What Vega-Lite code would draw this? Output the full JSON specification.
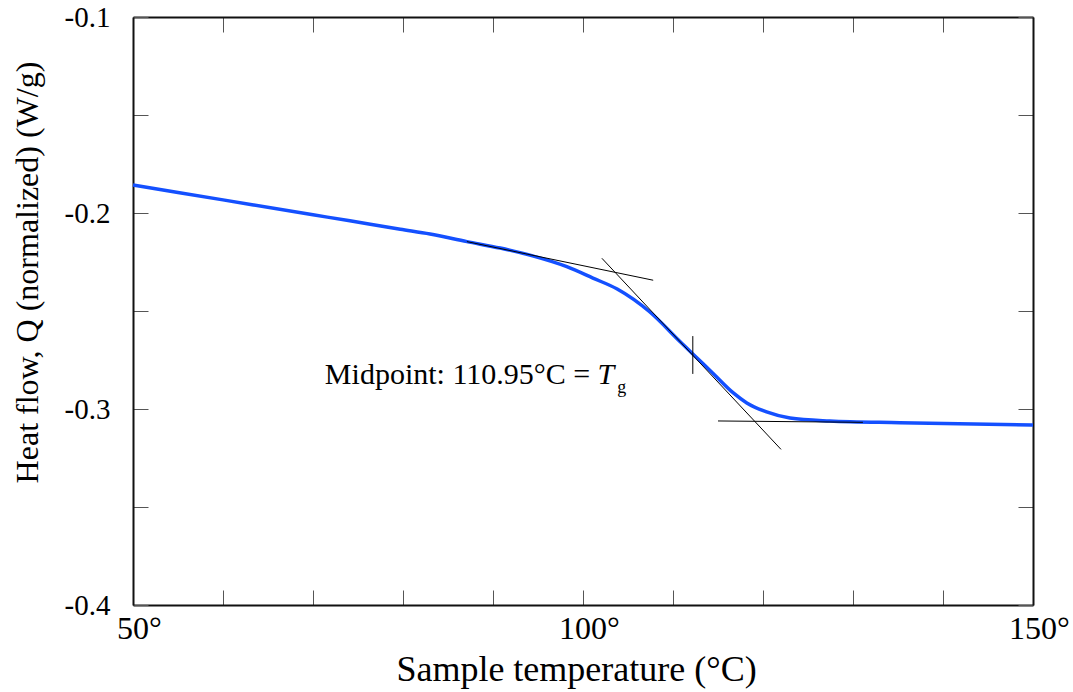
{
  "$schema": "https://vega.github.io/schema/vega-lite/v6.json",
  "width": 900,
  "height": 588,
  "autosize": {"type": "none"},
  "padding": {"left": 133, "top": 17, "right": 40, "bottom": 87},
  "background": "white",
  "config": {
    "font": "Liberation Serif",
    "view": {"stroke": null},
    "axis": {"grid": false, "labelColor": "black", "titleColor": "black", "titleFontWeight": "normal", "labelFlush": false, "labelOverlap": false, "domainColor": "#111", "domainWidth": 2, "tickColor": "#555", "tickWidth": 1}
  },
  "datasets": {
    "curve": [
      {"T": 50, "Q": -0.1857},
      {"T": 60, "Q": -0.1933},
      {"T": 70, "Q": -0.2009},
      {"T": 74.1, "Q": -0.2040},
      {"T": 79.7, "Q": -0.2083},
      {"T": 83.0, "Q": -0.2107},
      {"T": 87.1, "Q": -0.2146},
      {"T": 90.8, "Q": -0.2179},
      {"T": 94.4, "Q": -0.2219},
      {"T": 98.2, "Q": -0.2274},
      {"T": 101.1, "Q": -0.2332},
      {"T": 103.8, "Q": -0.2388},
      {"T": 107.4, "Q": -0.2504},
      {"T": 110.8, "Q": -0.2657},
      {"T": 112.2, "Q": -0.2719},
      {"T": 114.4, "Q": -0.2816},
      {"T": 116.7, "Q": -0.2918},
      {"T": 118.2, "Q": -0.2969},
      {"T": 120.4, "Q": -0.3015},
      {"T": 123.0, "Q": -0.3046},
      {"T": 127.4, "Q": -0.3061},
      {"T": 135.2, "Q": -0.3070},
      {"T": 150, "Q": -0.3082}
    ],
    "tangents": [
      {"seg": "upper", "T": 87.1, "Q": -0.2146},
      {"seg": "upper", "T": 107.8, "Q": -0.2343},
      {"seg": "steep", "T": 102.1, "Q": -0.2231},
      {"seg": "steep", "T": 122.0, "Q": -0.3206},
      {"seg": "lower", "T": 115.0, "Q": -0.3061},
      {"seg": "lower", "T": 131.1, "Q": -0.3068},
      {"seg": "mid", "T": 112.2, "Q": -0.2628},
      {"seg": "mid", "T": 112.2, "Q": -0.2821}
    ]
  },
  "layer": [
    {
      "data": {"name": "curve"},
      "mark": {"type": "line", "color": "#1450ff", "strokeWidth": 3.5, "interpolate": "monotone"},
      "encoding": {
        "x": {
          "field": "T", "type": "quantitative",
          "scale": {"domain": [50, 150], "nice": false, "zero": false},
          "axis": {
            "orient": "bottom",
            "values": [50, 60, 70, 80, 90, 100, 110, 120, 130, 140, 150],
            "labelExpr": "datum.value % 50 === 0 ? datum.value + '°' : ''",
            "tickSize": -15, "labelPadding": 23, "labelFontSize": 32, "labelOffset": 6,
            "title": "Sample temperature (°C)", "titleFontSize": 36,
            "titleX": 443, "titleY": 75, "titleBaseline": "alphabetic", "titleAlign": "center", "titleAnchor": null
          }
        },
        "y": {
          "field": "Q", "type": "quantitative",
          "scale": {"domain": [-0.4, -0.1], "nice": false, "zero": false},
          "axis": {
            "orient": "left",
            "values": [-0.4, -0.35, -0.3, -0.25, -0.2, -0.15, -0.1],
            "labelExpr": "round(datum.value*100) % 10 === 0 ? '-0.' + abs(round(datum.value*10)) : ''",
            "tickSize": -15, "labelPadding": 38, "labelFontSize": 29,
            "title": "Heat flow, Q (normalized) (W/g)", "titleFontSize": 32,
            "titleX": -96, "titleY": 255, "titleAngle": -90, "titleBaseline": "alphabetic", "titleAlign": "center", "titleAnchor": null
          }
        }
      }
    },
    {
      "data": {"name": "tangents"},
      "mark": {"type": "line", "color": "black", "strokeWidth": 1},
      "encoding": {
        "x": {"field": "T", "type": "quantitative", "axis": null},
        "y": {"field": "Q", "type": "quantitative", "axis": null},
        "detail": {"field": "seg", "type": "nominal"}
      }
    },
    {
      "data": {"values": [{"T": 100.8, "Q": -0.2872, "label": "Midpoint: 110.95°C ="}]},
      "mark": {"type": "text", "align": "right", "baseline": "alphabetic", "fontSize": 30, "color": "black"},
      "encoding": {
        "x": {"field": "T", "type": "quantitative", "axis": null},
        "y": {"field": "Q", "type": "quantitative", "axis": null},
        "text": {"field": "label"}
      }
    },
    {
      "data": {"values": [{"T": 101.6, "Q": -0.2872, "label": "T"}]},
      "mark": {"type": "text", "align": "left", "baseline": "alphabetic", "fontSize": 30, "fontStyle": "italic", "color": "black"},
      "encoding": {
        "x": {"field": "T", "type": "quantitative", "axis": null},
        "y": {"field": "Q", "type": "quantitative", "axis": null},
        "text": {"field": "label"}
      }
    },
    {
      "data": {"values": [{"T": 103.8, "Q": -0.2920, "label": "g"}]},
      "mark": {"type": "text", "align": "left", "baseline": "alphabetic", "fontSize": 18, "color": "black"},
      "encoding": {
        "x": {"field": "T", "type": "quantitative", "axis": null},
        "y": {"field": "Q", "type": "quantitative", "axis": null},
        "text": {"field": "label"}
      }
    },
    {
      "data": {"name": "curve"},
      "mark": {"type": "line", "strokeOpacity": 0},
      "encoding": {
        "x": {
          "field": "T", "type": "quantitative",
          "axis": {"orient": "top", "values": [50, 60, 70, 80, 90, 100, 110, 120, 130, 140, 150], "labels": false, "tickSize": -15, "title": null}
        },
        "y": {
          "field": "Q", "type": "quantitative",
          "axis": {"orient": "right", "values": [-0.4, -0.35, -0.3, -0.25, -0.2, -0.15, -0.1], "labels": false, "tickSize": -15, "title": null}
        }
      }
    }
  ],
  "resolve": {"axis": {"x": "independent", "y": "independent"}}
}
